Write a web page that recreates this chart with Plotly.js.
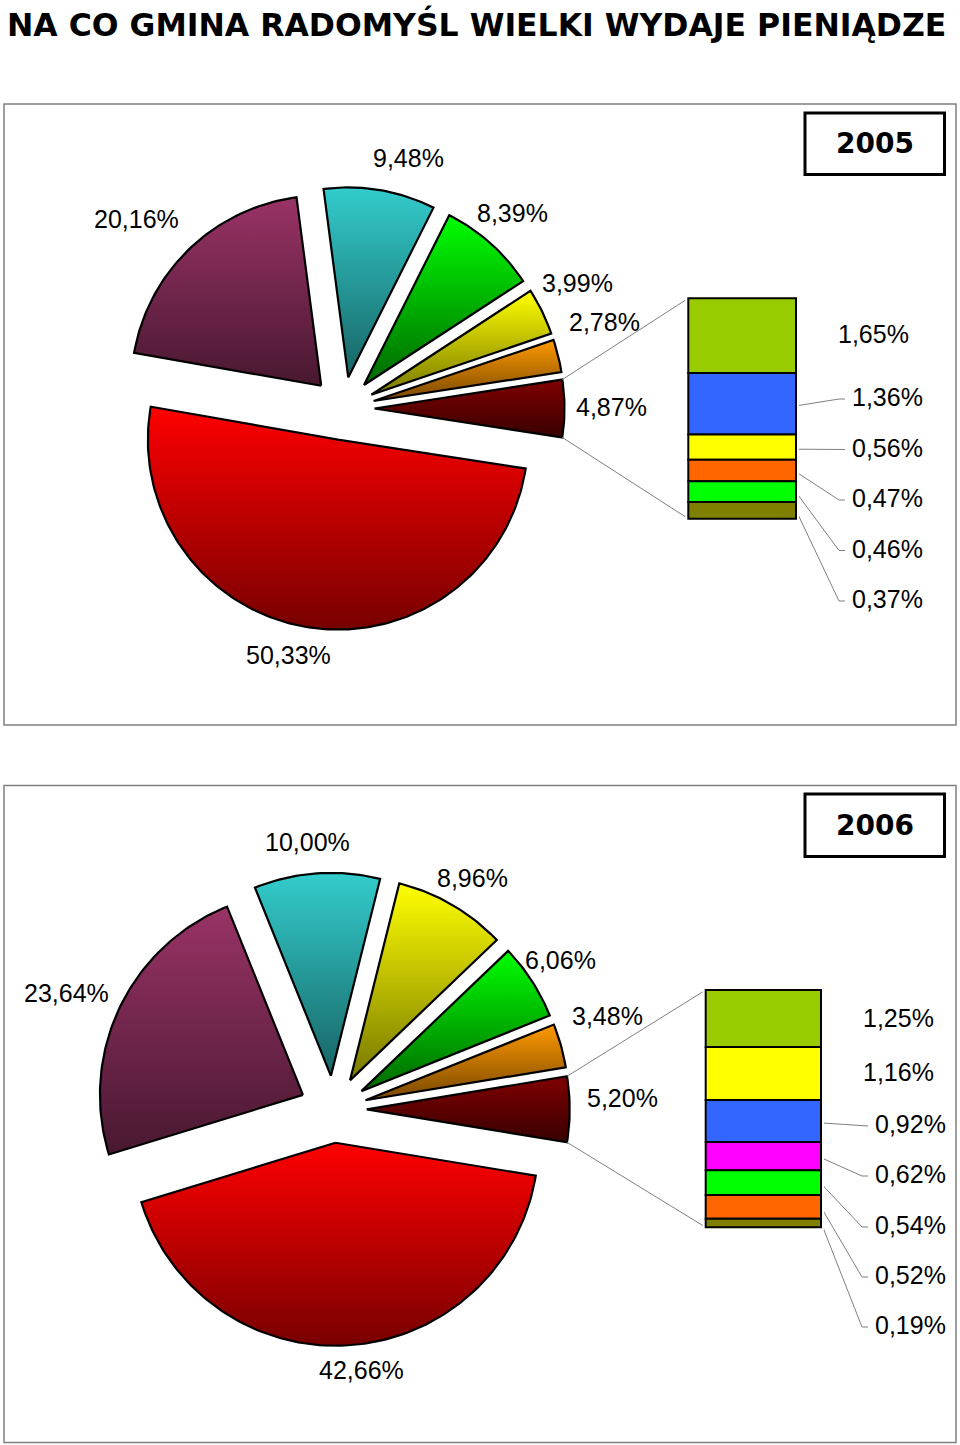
<!DOCTYPE html>
<html><head><meta charset="utf-8">
<script src="https://cdn.plot.ly/plotly-3.0.1.min.js"></script>
<style>html,body{margin:0;padding:0;background:#fff}#chart{width:960px;height:1445px}</style>
</head><body><div id="chart"></div>
<script>
// ================= DATA =================
const chartTitle = 'NA CO GMINA RADOMYŚL WIELKI WYDAJE PIENIĄDZE';
const years = ['2005', '2006'];
// main pie slices (clockwise from the bottom-right), in %
const pieValues2005 = [50.33, 20.16, 9.48, 8.39, 3.99, 2.78];
const otherValues2005 = [1.65, 1.36, 0.56, 0.47, 0.46, 0.37];   // "bar of pie" stack, top to bottom
const pieValues2006 = [42.66, 23.64, 10.00, 8.96, 6.06, 3.48];
const otherValues2006 = [1.25, 1.16, 0.92, 0.62, 0.54, 0.52, 0.19];

// ================= STYLES =================
const pieColors2005 = [['#FF0000','#780000'], ['#993366','#481830'], ['#33CCCC','#186464'], ['#00FF00','#006800'], ['#FFFF00','#787800'], ['#FF9900','#784800']];
const pieColors2006 = [['#FF0000','#780000'], ['#993366','#481830'], ['#33CCCC','#186464'], ['#FFFF00','#787800'], ['#00FF00','#006800'], ['#FF9900','#784800']];
const otherSliceColors = ['#800000', '#380000'];
const barColors2005 = ['#99CC00','#3366FF','#FFFF00','#FF6600','#00FF00','#808000'];
const barColors2006 = ['#99CC00','#FFFF00','#3366FF','#FF00FF','#00FF00','#FF6600','#808000'];
const labelFont = {family: 'Liberation Sans, Arial, sans-serif', size: 25, color: '#000'};

// ================= LAYOUT (page pixel positions) =================
const W = 960, H = 1445;
const panels = [
  { year: years[0], pie: pieValues2005, other: otherValues2005, pieColors: pieColors2005, barColors: barColors2005,
    frame: [4, 104, 956, 725], yearBox: [805, 113, 944.5, 174.5],
    center: [343, 408.5], radius: 190, explode: 31.5,
    bar: {x0: 688.3, x1: 796, top: 298.3, bottom: 518.7},
    pieLabels: [[288, 655], [136, 219], [408, 158], [512, 213], [577, 283], [604, 322]], otherLabel: [611, 407],
    barLabels: [[836, 334], [850, 397], [850, 447.5], [850, 498], [850, 548.5], [850, 599]],
    leader: [false, true, true, true, true, true] },
  { year: years[1], pie: pieValues2006, other: otherValues2006, pieColors: pieColors2006, barColors: barColors2006,
    frame: [4, 785.5, 956, 1442.5], yearBox: [805, 794, 944.5, 856.5],
    center: [333.2, 1109.3], radius: 203, explode: 33.5,
    bar: {x0: 705.7, x1: 821, top: 990, bottom: 1227.3},
    pieLabels: [[361, 1370], [66, 993], [307, 842], [472, 878], [560, 960], [607, 1016]], otherLabel: [622, 1098],
    barLabels: [[861, 1018], [861, 1072], [873, 1124], [873, 1174], [873, 1225], [873, 1275], [873, 1325]],
    leader: [false, false, true, true, true, true, true] }
];

const Y = py => H - py;
const rad = a => a * Math.PI / 180;
const fmt = v => v.toFixed(2).replace('.', ',') + '%';

const traces = [], annotations = [], shapes = [];
const layoutAxes = {};

function label(pos, text, xanchor) {
  annotations.push({x: pos[0], y: Y(pos[1]), xref: 'x', yref: 'y', text: text, showarrow: false,
    xanchor: xanchor || 'center', yanchor: 'middle', font: labelFont});
}
function line(xs, ys) {
  traces.push({type: 'scatter', mode: 'lines', x: xs, y: ys, line: {color: '#7F7F7F', width: 1},
    hoverinfo: 'skip', showlegend: false});
}

panels.forEach((p, pi) => {
  const cx = p.center[0], cy = Y(p.center[1]), R = p.radius, d = p.explode;
  const otherTotal = p.other.reduce((s, v) => s + v, 0);

  function addSlice(a1, a2, colors) {
    const mid = (a1 + a2) / 2;
    const vx = cx + d * Math.cos(rad(mid)), vy = cy + d * Math.sin(rad(mid));
    const n = Math.max(6, Math.ceil(Math.abs(a1 - a2) / 1.2));
    const xs = [vx], ys = [vy];
    for (let i = 0; i <= n; i++) {
      const a = a1 + (a2 - a1) * i / n;
      xs.push(vx + R * Math.cos(rad(a)));
      ys.push(vy + R * Math.sin(rad(a)));
    }
    xs.push(vx); ys.push(vy);
    traces.push({type: 'scatter', mode: 'lines', x: xs, y: ys, fill: 'toself', fillcolor: colors[0],
      fillgradient: {type: 'vertical', colorscale: [[0, colors[1]], [1, colors[0]]]},
      line: {color: '#000', width: 2.2}, hoverinfo: 'skip', showlegend: false});
    return {vx: vx, vy: vy};
  }

  // pie slices
  const half = otherTotal * 3.6 / 2;
  let start = -half;
  p.pie.forEach((v, i) => {
    const end = start - v * 3.6;
    addSlice(start, end, p.pieColors[i]);
    label(p.pieLabels[i], fmt(v));
    start = end;
  });
  const o = addSlice(half, -half, otherSliceColors);
  label(p.otherLabel, fmt(otherTotal));

  // bar of pie on its own axes
  const b = p.bar, pad = 3;
  const pxPerUnitY = (b.bottom - b.top) / otherTotal;
  const bw = b.x1 - b.x0;
  const xa = 'xaxis' + (pi + 2), ya = 'yaxis' + (pi + 2);
  layoutAxes[xa] = {domain: [(b.x0 - pad) / W, (b.x1 + pad) / W], range: [-0.5 - pad / bw, 0.5 + pad / bw],
    anchor: 'y' + (pi + 2), visible: false, fixedrange: true};
  layoutAxes[ya] = {domain: [(H - b.bottom - pad) / H, (H - b.top + pad) / H],
    range: [-pad / pxPerUnitY, otherTotal + pad / pxPerUnitY], anchor: 'x' + (pi + 2), visible: false, fixedrange: true};
  let cum = 0;
  const bases = [], mids = [];
  p.other.forEach(v => { cum += v; bases.push(otherTotal - cum); mids.push(b.top + (cum - v / 2) * pxPerUnitY); });
  traces.push({type: 'bar', xaxis: 'x' + (pi + 2), yaxis: 'y' + (pi + 2), x: p.other.map(() => 0), y: p.other,
    base: bases, width: p.other.map(() => 1), marker: {color: p.barColors, line: {color: '#000', width: 2}},
    hoverinfo: 'skip', showlegend: false});

  // connector lines between the pie's "other" slice and the bar
  line([o.vx + R * Math.cos(rad(half)), b.x0], [o.vy + R * Math.sin(rad(half)), Y(b.top)]);
  line([o.vx + R * Math.cos(rad(-half)), b.x0], [o.vy + R * Math.sin(rad(-half)), Y(b.bottom)]);

  // bar labels + leader lines
  p.other.forEach((v, i) => {
    const lp = p.barLabels[i];
    label(lp, fmt(v), 'left');
    if (p.leader[i]) {
      line([b.x1 + 1, lp[0] - 11, lp[0] - 5], [Y(mids[i] + 2), Y(lp[1] + 2), Y(lp[1] + 2)]);
    }
  });

  // frame and year box
  const f = p.frame;
  shapes.push({type: 'rect', xref: 'x', yref: 'y', x0: f[0], x1: f[2], y0: Y(f[1]), y1: Y(f[3]),
    line: {color: '#808080', width: 1.5}, layer: 'below'});
  const yb = p.yearBox;
  shapes.push({type: 'rect', xref: 'x', yref: 'y', x0: yb[0], x1: yb[2], y0: Y(yb[1]), y1: Y(yb[3]),
    line: {color: '#000', width: 3}, fillcolor: '#fff'});
  annotations.push({x: (yb[0] + yb[2]) / 2, y: Y((yb[1] + yb[3]) / 2), xref: 'x', yref: 'y', text: '<b>' + p.year + '</b>',
    showarrow: false, xanchor: 'center', yanchor: 'middle',
    font: {family: 'DejaVu Sans, Verdana, sans-serif', size: 28, color: '#000'}});
});

const layout = Object.assign({
  width: W, height: H,
  margin: {l: 0, r: 0, t: 0, b: 0, pad: 0},
  paper_bgcolor: '#fff', plot_bgcolor: '#fff',
  showlegend: false, barmode: 'overlay',
  title: {text: '<b>' + chartTitle + '</b>', x: 7 / W, xanchor: 'left', xref: 'container',
    y: 1 - 24.5 / H, yanchor: 'middle', yref: 'container',
    font: {family: 'DejaVu Sans, Verdana, sans-serif', size: 31.5, color: '#000'}},
  xaxis: {domain: [0, 1], range: [0, W], visible: false, fixedrange: true},
  yaxis: {domain: [0, 1], range: [0, H], visible: false, fixedrange: true},
  annotations: annotations, shapes: shapes
}, layoutAxes);

Plotly.newPlot('chart', traces, layout, {staticPlot: true, displayModeBar: false});
</script>
</body></html>
